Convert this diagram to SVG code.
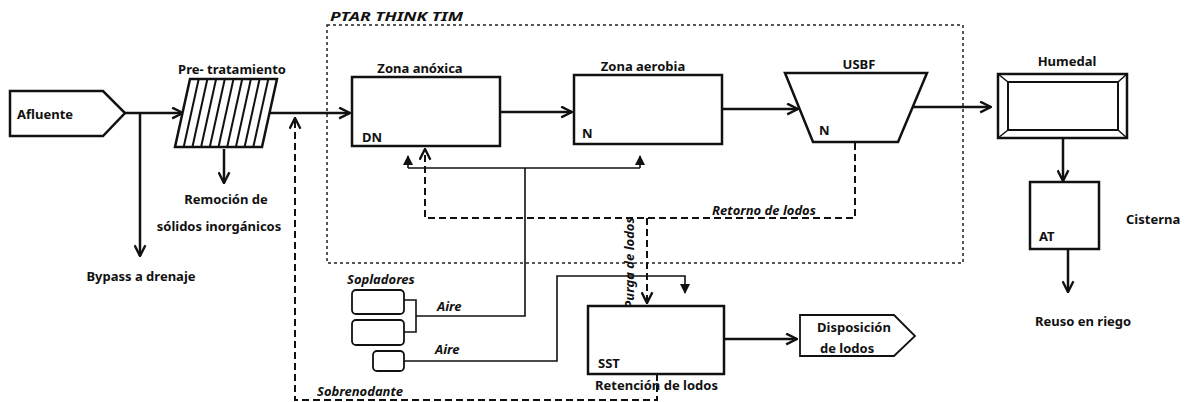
<svg xmlns="http://www.w3.org/2000/svg" width="1188" height="402" viewBox="0 0 1188 402">
<defs>
<marker id="open" viewBox="0 0 12 12" refX="11" refY="6" markerWidth="13" markerHeight="13" markerUnits="userSpaceOnUse" orient="auto">
<path d="M1,1 L11,6 L1,11" fill="none" stroke="#111" stroke-width="2.2"/>
</marker>
<marker id="fill" viewBox="0 0 10 10" refX="9" refY="5" markerWidth="10" markerHeight="10" markerUnits="userSpaceOnUse" orient="auto">
<path d="M0,0 L10,5 L0,10 Z" fill="#111"/>
</marker>
<style>
.box{fill:#fff;stroke:#111;stroke-width:2.5}
.thin{fill:#fff;stroke:#111;stroke-width:1.8}
.flow{fill:none;stroke:#111;stroke-width:2.5}
.dash{fill:none;stroke:#111;stroke-width:2;stroke-dasharray:7,4}
.air{fill:none;stroke:#111;stroke-width:1.6}
.ptar{fill:none;stroke:#222;stroke-width:1.5;stroke-dasharray:3,3}
.hatch{stroke:#111;stroke-width:2}
text{font-family:"Noto Sans","Open Sans","DejaVu Sans",sans-serif;font-weight:bold;font-size:13px;fill:#111}
.it{font-style:italic}
.mid{text-anchor:middle}
</style>
</defs>

<g id="ptar-box">
<rect class="ptar" x="327" y="25" width="636" height="238"/>
<text class="it" x="330" y="21" font-size="17" textLength="133" lengthAdjust="spacingAndGlyphs">PTAR THINK TIM</text>
</g>

<g id="connectors">
<path class="flow" d="M125,113 H183" marker-end="url(#open)"/>
<path class="flow" d="M140,113 V256" marker-end="url(#open)"/>
<path class="flow" d="M224,149 V183" marker-end="url(#open)"/>
<path class="flow" d="M268,113 H350" marker-end="url(#open)"/>
<path class="flow" d="M500,112 H572" marker-end="url(#open)"/>
<path class="flow" d="M722,109 H798" marker-end="url(#open)"/>
<path class="flow" d="M913,107 H991" marker-end="url(#open)"/>
<path class="flow" d="M1063,138 V181" marker-end="url(#open)"/>
<path class="flow" d="M1068,249 V292" marker-end="url(#open)"/>
<path class="flow" d="M724,339 H797" marker-end="url(#open)"/>
<path class="dash" d="M855,143 V218 H425 V149" marker-end="url(#open)"/>
<path class="dash" d="M647,218 V303" marker-end="url(#open)"/>
<path class="dash" d="M657,374 V400 H295 V118" marker-end="url(#open)"/>
<path class="air" d="M404,300 H416 V332 H404"/>
<path class="air" d="M416,316 H525 V168"/>
<path class="air" d="M408,168 H640"/>
<path class="air" d="M408,168 V156" marker-end="url(#fill)"/>
<path class="air" d="M640,168 V156" marker-end="url(#fill)"/>
<path class="air" d="M404,361 H557 V276 H685 V293" marker-end="url(#fill)"/>
<text class="it" x="437" y="311" font-size="12.5">Aire</text>
<text class="it" x="435" y="354" font-size="12.5">Aire</text>
<text class="it" x="712" y="215" font-size="12.8">Retorno de lodos</text>
<text class="it" x="634" y="263" font-size="10.5" text-anchor="middle" transform="rotate(-90 634 263)">Purga de lodos</text>
<text class="it" x="317" y="396" font-size="13.8">Sobrenodante</text>
</g>

<g id="afluente">
<path class="box" d="M10,91 H103 L125,113 L103,136 H10 Z"/>
<text x="17" y="119" font-size="15.5">Afluente</text>
</g>

<g id="pretratamiento">
<path class="box" d="M190,79 H277 L262,147 H175 Z"/>
<line class="hatch" x1="198.7" y1="79" x2="183.7" y2="147"/>
<line class="hatch" x1="207.4" y1="79" x2="192.4" y2="147"/>
<line class="hatch" x1="216.1" y1="79" x2="201.1" y2="147"/>
<line class="hatch" x1="224.8" y1="79" x2="209.8" y2="147"/>
<line class="hatch" x1="233.5" y1="79" x2="218.5" y2="147"/>
<line class="hatch" x1="242.2" y1="79" x2="227.2" y2="147"/>
<line class="hatch" x1="250.9" y1="79" x2="235.9" y2="147"/>
<line class="hatch" x1="259.6" y1="79" x2="244.6" y2="147"/>
<line class="hatch" x1="268.3" y1="79" x2="253.3" y2="147"/>
<text class="mid" x="232" y="74" font-size="13.3">Pre- tratamiento</text>
</g>

<g id="remocion">
<text class="mid" x="226" y="204" font-size="14">Remoción de</text>
<text class="mid" x="219" y="231" font-size="12.8">sólidos inorgánicos</text>
</g>

<g id="bypass">
<text class="mid" x="141" y="281">Bypass a drenaje</text>
</g>

<g id="zona-anoxica">
<rect class="box" x="352" y="77" width="148" height="69"/>
<text class="mid" x="420" y="73">Zona anóxica</text>
<text x="362" y="142" font-size="12">DN</text>
</g>

<g id="zona-aerobia">
<rect class="box" x="574" y="75" width="148" height="69"/>
<text class="mid" x="643" y="71">Zona aerobia</text>
<text x="582" y="138" font-size="12">N</text>
</g>

<g id="usbf">
<path class="box" d="M785,73 H927 L898,142 H813 Z"/>
<text class="mid" x="859" y="69" font-size="15">USBF</text>
<text x="819" y="135" font-size="12">N</text>
</g>

<g id="humedal">
<rect class="box" x="998" y="74" width="129" height="64"/>
<rect fill="none" stroke="#111" stroke-width="2" x="1008" y="82" width="110" height="48"/>
<path fill="none" stroke="#111" stroke-width="1.5" d="M998,74 L1008,82 M1127,74 L1118,82 M998,138 L1008,130 M1127,138 L1118,130"/>
<text class="mid" x="1067" y="66" font-size="13.5">Humedal</text>
</g>

<g id="cisterna">
<rect class="box" x="1030" y="182" width="69" height="67"/>
<text x="1039" y="241" font-size="12">AT</text>
<text x="1126" y="224">Cisterna</text>
</g>

<g id="reuso">
<text x="1035" y="326">Reuso en riego</text>
</g>

<g id="sopladores">
<text class="it" x="347" y="284" font-size="10.5">Sopladores</text>
<rect class="thin" x="352" y="290" width="52" height="24" rx="4"/>
<rect class="thin" x="352" y="320" width="52" height="25" rx="4"/>
<rect class="thin" x="373" y="351" width="31" height="20" rx="4"/>
</g>

<g id="sst">
<rect class="box" x="588" y="306" width="136" height="68"/>
<text x="598" y="368" font-size="12">SST</text>
<text x="595" y="390" font-size="12.8">Retención de lodos</text>
</g>

<g id="disposicion">
<path class="thin" d="M800,315 H894 L915,336 L894,356 H800 Z"/>
<text x="817" y="332" font-size="12.2">Disposición</text>
<text x="820" y="353" font-size="12.2">de lodos</text>
</g>
</svg>
